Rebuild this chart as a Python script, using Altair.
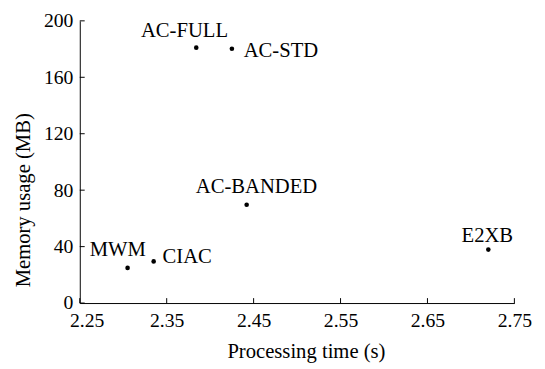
import altair as alt
import pandas as pd

# ---- data ----
methods = ["AC-FULL", "AC-STD", "AC-BANDED", "MWM", "CIAC", "E2XB"]
proc_time = [2.384, 2.425, 2.442, 2.305, 2.335, 2.720]
memory_mb = [181.0, 180.2, 69.7, 24.9, 29.5, 37.9]
x_ticks = [2.25, 2.35, 2.45, 2.55, 2.65, 2.75]
y_ticks = [0, 40, 80, 120, 160, 200]

# ---- label placement (style, not data) ----
label_style = {
    "AC-FULL": dict(align="center", dx=-12, dy=-11),
    "AC-STD": dict(align="left", dx=12, dy=8),
    "AC-BANDED": dict(align="center", dx=10, dy=-12),
    "MWM": dict(align="center", dx=-10, dy=-12),
    "CIAC": dict(align="left", dx=9, dy=2),
    "E2XB": dict(align="center", dx=-1, dy=-8),
}

FONT = "Liberation Serif"
W, H = 442, 287

df = pd.DataFrame({"method": methods, "time": proc_time, "mem": memory_mb})
xt = pd.DataFrame({"v": x_ticks})
yt = pd.DataFrame({"v": y_ticks})

xscale = alt.Scale(domain=[2.25, 2.75], nice=False, zero=False)
yscale = alt.Scale(domain=[0, 200], nice=False)

base = alt.Chart(df)

points = base.mark_point(filled=True, color="black", size=22, opacity=1).encode(
    x=alt.X("time:Q", scale=xscale,
            axis=alt.Axis(title="Processing time (s)", values=x_ticks, format=".2f",
                          labelFlush=False,
                          labelOffset={"condition": {"test": "datum.value <= 2.25", "value": 7}, "value": 0},
                          labelPadding=8, titlePadding=10, titleX=230)),
    y=alt.Y("mem:Q", scale=yscale,
            axis=alt.Axis(title="Memory usage (MB)", values=y_ticks, format="d",
                          labelPadding=7, titlePadding=10, titleY=182)),
)

layers = [points]
for name, st in label_style.items():
    layers.append(
        base.transform_filter(alt.datum.method == name)
        .mark_text(font=FONT, fontSize=21, color="black", baseline="alphabetic", **st)
        .encode(x=alt.X("time:Q", scale=xscale), y=alt.Y("mem:Q", scale=yscale), text="method:N")
    )

xtick_rules = alt.Chart(xt).mark_rule(color="black", strokeWidth=1).encode(
    x=alt.X("v:Q", scale=xscale), y=alt.value(H), y2=alt.value(H - 5)
)
ytick_rules = alt.Chart(yt).mark_rule(color="black", strokeWidth=1).encode(
    y=alt.Y("v:Q", scale=yscale), x=alt.value(0), x2=alt.value(5)
)
layers += [xtick_rules, ytick_rules]

chart = alt.layer(*layers).properties(
    width=W, height=H, padding={"left": 5, "top": 0, "right": 5, "bottom": 5}
).configure_axis(
    labelFont=FONT, titleFont=FONT, labelFontSize=20, titleFontSize=21,
    titleFontWeight="normal", labelColor="black", titleColor="black",
    domainColor="black", domainWidth=1, grid=False, ticks=False, tickSize=0,
).configure_view(stroke=None)

chart.save("out.html", embed_options={"renderer": "svg", "actions": False})
